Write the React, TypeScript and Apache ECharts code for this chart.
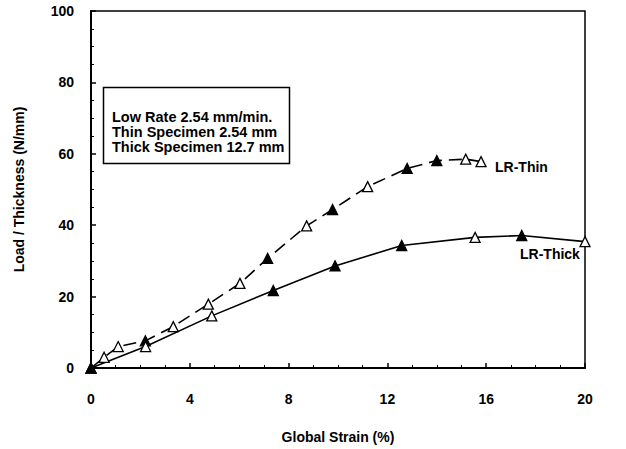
import React, { useEffect, useRef } from "react";
import * as echarts from "echarts";

const thinStrain = [0, 0.53, 1.1, 2.2, 3.33, 4.75, 6.03, 7.15, 8.73, 9.78, 11.2, 12.8, 14.0, 15.17, 15.79];
const thinLoad = [0, 3.0, 6.0, 7.6, 11.6, 17.9, 23.7, 30.7, 39.8, 44.4, 50.8, 55.9, 58.1, 58.5, 57.8];
const thinFilled = [true, false, false, true, false, false, false, true, false, true, false, true, true, false, false];

const thickStrain = [0, 2.21, 4.89, 7.38, 9.88, 12.58, 15.55, 17.44, 20.0];
const thickLoad = [0, 6.0, 14.6, 21.7, 28.6, 34.3, 36.6, 37.1, 35.4];
const thickFilled = [true, false, false, true, true, true, false, true, false];

const legendLines = ["Low Rate 2.54 mm/min.", "Thin Specimen 2.54 mm", "Thick Specimen 12.7 mm"];

const FONT = "'Liberation Sans', Arial, sans-serif";

function buildData(xs: number[], ys: number[], filled: boolean[]) {
  return xs.map((x, i) => ({
    value: [x, ys[i]],
    itemStyle: { color: filled[i] ? "#000" : "#fff", borderColor: "#000", borderWidth: 1.3 },
  }));
}

export default function App() {
  const ref = useRef<HTMLDivElement>(null);
  useEffect(() => {
    if (!ref.current) return;
    const chart = echarts.init(ref.current, null, { renderer: "svg" });
    const axisCommon = {
      axisLine: { show: true, lineStyle: { color: "#000", width: 2 } },
      axisTick: { show: true, inside: true, length: 5, lineStyle: { color: "#000", width: 1.5 } },
      minorTick: { show: true, splitNumber: 4, length: 3, lineStyle: { color: "#000", width: 1 } },
      splitLine: { show: false },
      axisLabel: { color: "#000", fontFamily: FONT, fontWeight: "bold", fontSize: 14 },
      nameTextStyle: { color: "#000", fontFamily: FONT, fontWeight: "bold", fontSize: 14 },
    };
    chart.setOption({
      animation: false,
      grid: { left: 91, right: 41, top: 11, bottom: 81, show: true, borderColor: "#000", borderWidth: 1.5, backgroundColor: "transparent" },
      xAxis: {
        type: "value",
        min: 0,
        max: 20,
        interval: 4,
        name: "Global Strain (%)",
        nameLocation: "middle",
        nameGap: 62,
        ...axisCommon,
        axisLabel: { ...axisCommon.axisLabel, margin: 24 },
      },
      yAxis: {
        type: "value",
        min: 0,
        max: 100,
        interval: 20,
        name: "Load / Thickness (N/mm)",
        nameLocation: "middle",
        nameGap: 65,
        ...axisCommon,
        axisLabel: { ...axisCommon.axisLabel, margin: 17 },
      },
      series: [
        {
          type: "line",
          data: buildData(thinStrain, thinLoad, thinFilled),
          symbol: "triangle",
          symbolSize: 10,
          lineStyle: { color: "#000", width: 1.6, type: [13, 7] },
          z: 3,
        },
        {
          type: "line",
          data: buildData(thickStrain, thickLoad, thickFilled),
          symbol: "triangle",
          symbolSize: 10,
          lineStyle: { color: "#000", width: 1.6 },
          z: 3,
        },
      ],
      graphic: [
        {
          type: "rect",
          shape: { x: 103.5, y: 87.5, width: 186, height: 76 },
          style: { fill: "#fff", stroke: "#000", lineWidth: 1.5 },
          z: 10,
        },
        ...legendLines.map((t, i) => ({
          type: "text",
          x: 112,
          y: 117 + i * 15,
          style: { text: t, fill: "#000", font: `bold 14.5px ${FONT}`, textVerticalAlign: "middle" },
          z: 11,
        })),
        {
          type: "text",
          x: 495,
          y: 167,
          style: { text: "LR-Thin", fill: "#000", font: `bold 14px ${FONT}`, textVerticalAlign: "middle" },
          z: 11,
        },
        {
          type: "text",
          x: 520,
          y: 254,
          style: { text: "LR-Thick", fill: "#000", font: `bold 14px ${FONT}`, textVerticalAlign: "middle" },
          z: 11,
        },
      ],
    });
    return () => chart.dispose();
  }, []);
  return <div ref={ref} style={{ width: 626, height: 449, position: "absolute", left: 0, top: 0, background: "#fff" }} />;
}
